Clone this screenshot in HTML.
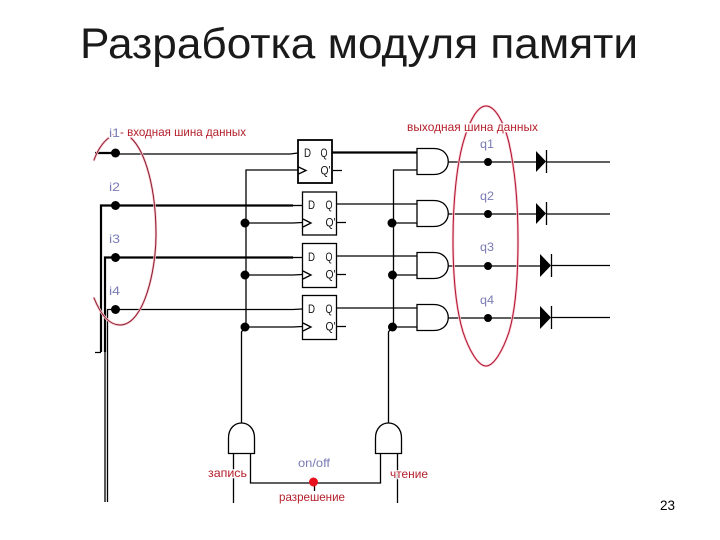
<!DOCTYPE html>
<html><head><meta charset="utf-8"><style>
html,body{margin:0;padding:0;background:#fff}
svg{display:block;font-family:"Liberation Sans",sans-serif}
.w{fill:none;stroke:#000;stroke-width:1.3}
.t{fill:none;stroke:#000;stroke-width:2.2}
.g{fill:#fff;stroke:#000;stroke-width:1.3}
.d{fill:#000}
.r{font-size:12px;fill:#b4202c;paint-order:stroke;stroke:#fff;stroke-width:2.500px}
.b{font-size:12px;fill:#7a7cb4;paint-order:stroke;stroke:#fff;stroke-width:2px}
.k{font-size:12px;fill:#111}
</style></head><body>
<svg width="720" height="540" viewBox="0 0 720 540" xmlns="http://www.w3.org/2000/svg">
<text x="80" y="58" font-size="42.7" fill="#1a1a1a" textLength="558" lengthAdjust="spacingAndGlyphs">Разработка модуля памяти</text>

<!-- input wires -->
<path class="t" d="M95 153H115"/>
<path class="w" d="M115 154H290L298 153"/>
<path class="t" d="M101 352V205.500H293"/>
<path class="w" d="M293 205.500H302"/>
<path class="t" d="M105 352V257.500H293"/>
<path class="w" d="M293 257.500H302"/>
<path class="w" d="M95 352.500H101M105 352V502M107.500 502V309.500H293L302 309"/>

<!-- clock -->
<path class="w" d="M298 170H246V327M246 223H293L302 222.500M246 275H293L302 274.500M246 327H293L302 326.500M245 327L241.500 332V423"/>

<!-- Q outputs -->
<path class="t" d="M332 152.500H417"/>
<path class="w" d="M337 204H417M337 256H417M337 308H417"/>
<path class="w" d="M333 170.500H342M337 222.500H346M337 274.500H346M337 326.500H346"/>

<!-- read line -->
<path class="w" d="M417 170H393.500V327M393.500 223H417M393.500 275H417M393.500 327H417M392 327L388.500 332V423"/>

<!-- flip-flops -->
<rect x="298" y="140" width="34" height="43" fill="#fff" stroke="#000" stroke-width="1.8"/>
<rect x="302.500" y="192" width="34" height="43" class="g"/>
<rect x="302.500" y="243.500" width="34" height="44" class="g"/>
<rect x="302.500" y="295.500" width="34" height="44" class="g"/>
<path class="w" d="M298.500 167L306 170.500L298.500 174M303 219L311 223L303 227M303 271L311 275L303 279M303 323L311 327L303 331"/>
<g class="k">
<text x="304" y="157" textLength="7" lengthAdjust="spacingAndGlyphs">D</text><text x="320.500" y="157" textLength="7" lengthAdjust="spacingAndGlyphs">Q</text><text x="320.500" y="174.500" textLength="10" lengthAdjust="spacingAndGlyphs">Q'</text>
<text x="308" y="209" textLength="7" lengthAdjust="spacingAndGlyphs">D</text><text x="325.500" y="209" textLength="7" lengthAdjust="spacingAndGlyphs">Q</text><text x="325.500" y="226.500" textLength="10" lengthAdjust="spacingAndGlyphs">Q'</text>
<text x="308" y="261" textLength="7" lengthAdjust="spacingAndGlyphs">D</text><text x="325.500" y="261" textLength="7" lengthAdjust="spacingAndGlyphs">Q</text><text x="325.500" y="278.500" textLength="10" lengthAdjust="spacingAndGlyphs">Q'</text>
<text x="308" y="313" textLength="7" lengthAdjust="spacingAndGlyphs">D</text><text x="325.500" y="313" textLength="7" lengthAdjust="spacingAndGlyphs">Q</text><text x="325.500" y="330.500" textLength="10" lengthAdjust="spacingAndGlyphs">Q'</text>
</g>

<!-- output AND gates -->
<path class="g" d="M417 148.500H434C453 148.500 453 174.500 434 174.500H417Z"/>
<path class="g" d="M417 200.500H434C453 200.500 453 226.500 434 226.500H417Z"/>
<path class="g" d="M417 252.500H434C453 252.500 453 278.500 434 278.500H417Z"/>
<path class="g" d="M417 304.500H434C453 304.500 453 330.500 434 330.500H417Z"/>

<!-- outputs and diodes -->
<path class="w" d="M448 162H536M546 162H610M448 214H536M546 214H610M448 266H540M551 265.500H610M448 318H540M551 317.500H610"/>
<path class="d" d="M536 151V172L546 161.500Z"/>
<path class="d" d="M536 203V224L546 213.500Z"/>
<path class="d" d="M540 254V277L551 265.500Z"/>
<path class="d" d="M540 306V329L551 317.500Z"/>
<path class="w" d="M546.500 150V173M546.500 202V225M551.500 254V277M551.500 306V329"/>

<!-- dots -->
<g class="d">
<circle cx="115.500" cy="153" r="4.500"/><circle cx="115.500" cy="205.500" r="4.500"/><circle cx="115.500" cy="257.500" r="4.500"/><circle cx="115.500" cy="309.500" r="4.500"/>
<circle cx="245" cy="223" r="4.500"/><circle cx="245" cy="275" r="4.500"/><circle cx="245" cy="327" r="4.500"/>
<circle cx="392" cy="223" r="4.500"/><circle cx="392.500" cy="275" r="4.500"/><circle cx="392.500" cy="327" r="4.500"/>
<circle cx="488" cy="162" r="4"/><circle cx="488" cy="214" r="4"/><circle cx="488" cy="266" r="4"/><circle cx="488" cy="318" r="4"/>
</g>

<!-- ellipses -->
<g fill="none" stroke-linecap="round" stroke-linejoin="round">
<path stroke="#f8c8ce" stroke-width="2.500" d="M94 160C98 149 104 140 113 135M131 138C146 152 156 190 156 235C156 270 144 325 120 325C108 325 100 313 94 298"/>
<path stroke="#8a1a30" stroke-width="1" d="M94 160C98 149 104 140 113 135M131 138C146 152 156 190 156 235C156 270 144 325 120 325C108 325 100 313 94 298"/>
<path stroke="#f8c8ce" stroke-width="2.500" d="M486 106C477 106 469 122 463 143C457 165 453 200 453 240C453 280 457 312 463 332C469 350 478 366 486 366C494 366 503 350 509 332C515 312 518 280 518 240C518 200 515 170 509 143C504 122 495 106 486 106Z"/>
<path stroke="#b01030" stroke-width="1" d="M486 106C477 106 469 122 463 143C457 165 453 200 453 240C453 280 457 312 463 332C469 350 478 366 486 366C494 366 503 350 509 332C515 312 518 280 518 240C518 200 515 170 509 143C504 122 495 106 486 106Z"/>
</g>

<!-- bottom gates -->
<path class="g" d="M228.500 453.500V438C228.500 418 254.500 418 254.500 438V453.500Z"/>
<path class="g" d="M375.500 453.500V438C375.500 418 401.500 418 401.500 438V453.500Z"/>
<path class="w" d="M233.500 453.500V503M397.500 453.500V503"/>
<path class="w" d="M250.500 453.500V483H380.500V453.500"/>
<path class="w" d="M314.500 483V491"/>
<circle cx="313.500" cy="482" r="4.500" fill="#e8101c"/>

<!-- labels -->
<text class="b" x="109" y="137" textLength="11" lengthAdjust="spacingAndGlyphs">i1</text>
<text class="r" x="120" y="136" textLength="126" lengthAdjust="spacingAndGlyphs">- входная шина данных</text>
<text class="b" x="109" y="191" textLength="11" lengthAdjust="spacingAndGlyphs">i2</text>
<text class="b" x="109" y="243" textLength="11" lengthAdjust="spacingAndGlyphs">i3</text>
<text class="b" x="109" y="295" textLength="11" lengthAdjust="spacingAndGlyphs">i4</text>
<text class="r" x="407" y="131" textLength="131" lengthAdjust="spacingAndGlyphs">выходная шина данных</text>
<text class="b" x="480" y="148" textLength="14" lengthAdjust="spacingAndGlyphs">q1</text>
<text class="b" x="480" y="200" textLength="14" lengthAdjust="spacingAndGlyphs">q2</text>
<text class="b" x="480" y="251" textLength="14" lengthAdjust="spacingAndGlyphs">q3</text>
<text class="b" x="480" y="304" textLength="14" lengthAdjust="spacingAndGlyphs">q4</text>
<text class="b" x="298" y="467" textLength="32" lengthAdjust="spacingAndGlyphs">on/off</text>
<text class="r" x="208" y="477" textLength="39" lengthAdjust="spacingAndGlyphs">запись</text>
<text class="r" x="390" y="478" textLength="38" lengthAdjust="spacingAndGlyphs">чтение</text>
<text class="r" x="279" y="501" textLength="66" lengthAdjust="spacingAndGlyphs">разрешение</text>
<text x="660" y="510" font-size="13.500" fill="#000">23</text>
</svg>
</body></html>
